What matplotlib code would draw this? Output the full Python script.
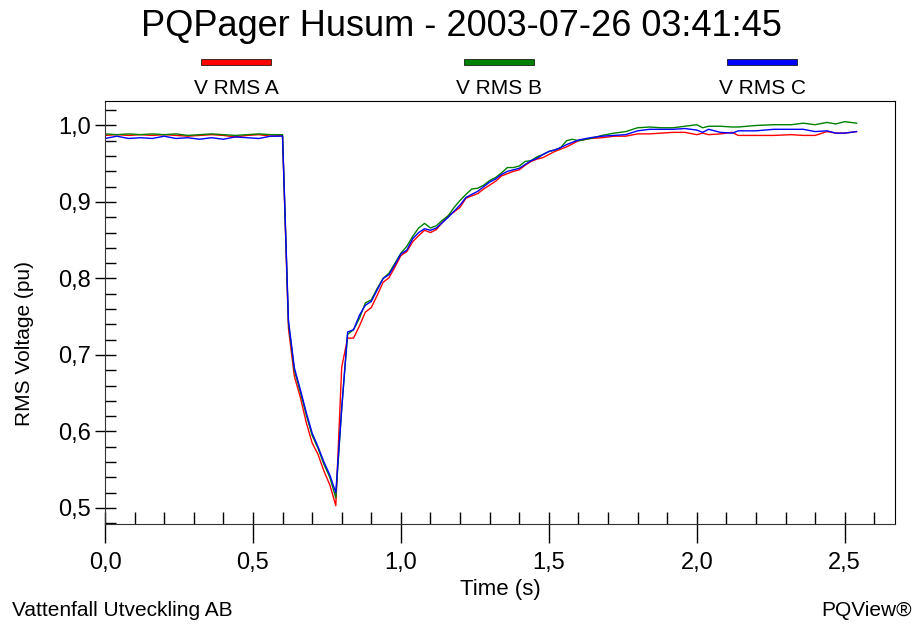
import matplotlib.pyplot as plt
from matplotlib.patches import Rectangle
from matplotlib.ticker import MultipleLocator, FuncFormatter

plt.rcParams['font.family'] = ['Liberation Sans', 'DejaVu Sans']

# Time axis (s)
time = [0.00, 0.04, 0.08, 0.12, 0.16, 0.20, 0.24, 0.28, 0.32, 0.36, 0.40, 0.44, 0.48, 0.52, 0.56, 0.60,
        0.62, 0.64, 0.66, 0.68, 0.70, 0.72, 0.74, 0.76, 0.78,
        0.80, 0.82, 0.84, 0.86, 0.88, 0.90, 0.92, 0.94, 0.96, 0.98, 1.00, 1.02, 1.04, 1.06, 1.08, 1.10,
        1.12, 1.14, 1.16, 1.18, 1.20, 1.22, 1.24, 1.26, 1.28, 1.30, 1.32, 1.34, 1.36, 1.38, 1.40, 1.42,
        1.44, 1.46, 1.48, 1.50, 1.52, 1.54, 1.56, 1.58, 1.60, 1.64, 1.68, 1.72, 1.76, 1.80, 1.84, 1.88,
        1.92, 1.96, 2.00, 2.02, 2.04, 2.08, 2.12, 2.14, 2.20, 2.26, 2.32, 2.36, 2.40, 2.44, 2.47, 2.50, 2.54]

# RMS voltage per phase (pu)
v_rms_a = [0.987, 0.988, 0.987, 0.988, 0.987, 0.988, 0.987, 0.986, 0.987, 0.988, 0.987, 0.985, 0.987, 0.988, 0.986, 0.987,
           0.735, 0.672, 0.645, 0.612, 0.585, 0.570, 0.548, 0.530, 0.503,
           0.684, 0.722, 0.722, 0.738, 0.756, 0.762, 0.778, 0.795, 0.801, 0.815, 0.830, 0.835, 0.848, 0.856, 0.863, 0.860,
           0.864, 0.873, 0.882, 0.887, 0.893, 0.905, 0.908, 0.911, 0.917, 0.922, 0.927, 0.934, 0.937, 0.940, 0.942, 0.948,
           0.953, 0.956, 0.958, 0.962, 0.966, 0.969, 0.972, 0.976, 0.980, 0.983, 0.984, 0.986, 0.986, 0.989, 0.989, 0.990,
           0.991, 0.991, 0.988, 0.990, 0.988, 0.989, 0.991, 0.987, 0.987, 0.987, 0.988, 0.987, 0.987, 0.992, 0.990, 0.990, 0.992]

v_rms_b = [0.989, 0.988, 0.989, 0.988, 0.989, 0.988, 0.989, 0.987, 0.988, 0.989, 0.988, 0.987, 0.988, 0.989, 0.988, 0.988,
           0.742, 0.680, 0.652, 0.622, 0.595, 0.578, 0.557, 0.540, 0.513,
           0.630, 0.727, 0.733, 0.748, 0.768, 0.772, 0.787, 0.800, 0.807, 0.820, 0.833, 0.842, 0.855, 0.866, 0.872, 0.866,
           0.869, 0.876, 0.882, 0.893, 0.902, 0.910, 0.917, 0.918, 0.922, 0.928, 0.932, 0.938, 0.945, 0.945, 0.947, 0.953,
           0.954, 0.959, 0.962, 0.966, 0.968, 0.971, 0.980, 0.982, 0.980, 0.983, 0.987, 0.990, 0.992, 0.997, 0.998, 0.997,
           0.997, 0.999, 1.001, 0.997, 0.999, 0.999, 0.998, 0.998, 1.000, 1.001, 1.001, 1.003, 1.001, 1.004, 1.002, 1.005, 1.003]

v_rms_c = [0.983, 0.986, 0.983, 0.984, 0.983, 0.986, 0.983, 0.984, 0.982, 0.984, 0.982, 0.985, 0.984, 0.983, 0.986, 0.986,
           0.745, 0.683, 0.655, 0.625, 0.598, 0.580, 0.560, 0.543, 0.520,
           0.630, 0.730, 0.733, 0.752, 0.765, 0.770, 0.785, 0.800, 0.805, 0.818, 0.832, 0.837, 0.852, 0.860, 0.865, 0.863,
           0.866, 0.873, 0.880, 0.888, 0.896, 0.906, 0.910, 0.914, 0.920, 0.926, 0.930, 0.936, 0.940, 0.942, 0.944, 0.949,
           0.954, 0.957, 0.962, 0.966, 0.968, 0.971, 0.975, 0.978, 0.981, 0.984, 0.986, 0.987, 0.988, 0.993, 0.995, 0.995,
           0.995, 0.996, 0.994, 0.991, 0.995, 0.991, 0.990, 0.993, 0.993, 0.995, 0.995, 0.995, 0.992, 0.993, 0.990, 0.990, 0.992]

series = [('V RMS A', v_rms_a, '#ff0000'),
          ('V RMS B', v_rms_b, '#008000'),
          ('V RMS C', v_rms_c, '#0000ff')]

fig = plt.figure(figsize=(9.22, 6.25), dpi=100)
ax = fig.add_axes([105 / 922, 1 - 524 / 625, 790 / 922, 423 / 625])

for name, vals, col in series:
    ax.plot(time, vals, color=col, linewidth=1.0)

ax.set_xlim(0, 2.67)
ax.set_ylim(0.479, 1.032)

comma = FuncFormatter(lambda v, pos: f'{v:.1f}'.replace('.', ','))
ax.xaxis.set_major_locator(MultipleLocator(0.5))
ax.xaxis.set_minor_locator(MultipleLocator(0.1))
ax.yaxis.set_major_locator(MultipleLocator(0.1))
ax.yaxis.set_minor_locator(MultipleLocator(0.02))
ax.xaxis.set_major_formatter(comma)
ax.yaxis.set_major_formatter(comma)
ax.xaxis.remove_overlapping_locs = False
ax.yaxis.remove_overlapping_locs = False

ax.tick_params(axis='x', which='major', direction='out', length=14, width=1, labelsize=17, pad=6)
ax.tick_params(axis='x', which='minor', direction='in', length=8.5, width=1)
ax.tick_params(axis='y', which='major', direction='out', length=7, width=1, labelsize=17, pad=3)
ax.tick_params(axis='y', which='minor', direction='in', length=8, width=1)
ax.tick_params(top=False, right=False, which='both')

for s in ['left', 'bottom']:
    ax.spines[s].set_color('#333333')

# axis titles
fig.text(500 / 922, 1 - 590 / 625, 'Time (s)', fontsize=16, ha='center', va='center')
fig.text(25 / 922, 1 - 343 / 625, 'RMS Voltage (pu)', fontsize=15, ha='center', va='center', rotation=90)

fig.text(0.5, 1 - 27 / 625, 'PQPager Husum - 2003-07-26 03:41:45', fontsize=26, ha='center', va='center')

# legend bars and labels
legend_x = [236, 499, 762]
for (name, vals, col), cx in zip(series, legend_x):
    fig.add_artist(Rectangle(((cx - 35) / 922, 1 - 65 / 625), 70 / 922, 6 / 625,
                             facecolor=col, edgecolor='black', linewidth=0.5, transform=fig.transFigure))
    fig.text(cx / 922, 1 - 88 / 625, name, fontsize=15, ha='center', va='center')

fig.text(12 / 922, 1 - 610 / 625, 'Vattenfall Utveckling AB', fontsize=15, ha='left', va='center')
fig.text(912 / 922, 1 - 610 / 625, 'PQView®', fontsize=15, ha='right', va='center')

fig.savefig('out.png', dpi=100)
